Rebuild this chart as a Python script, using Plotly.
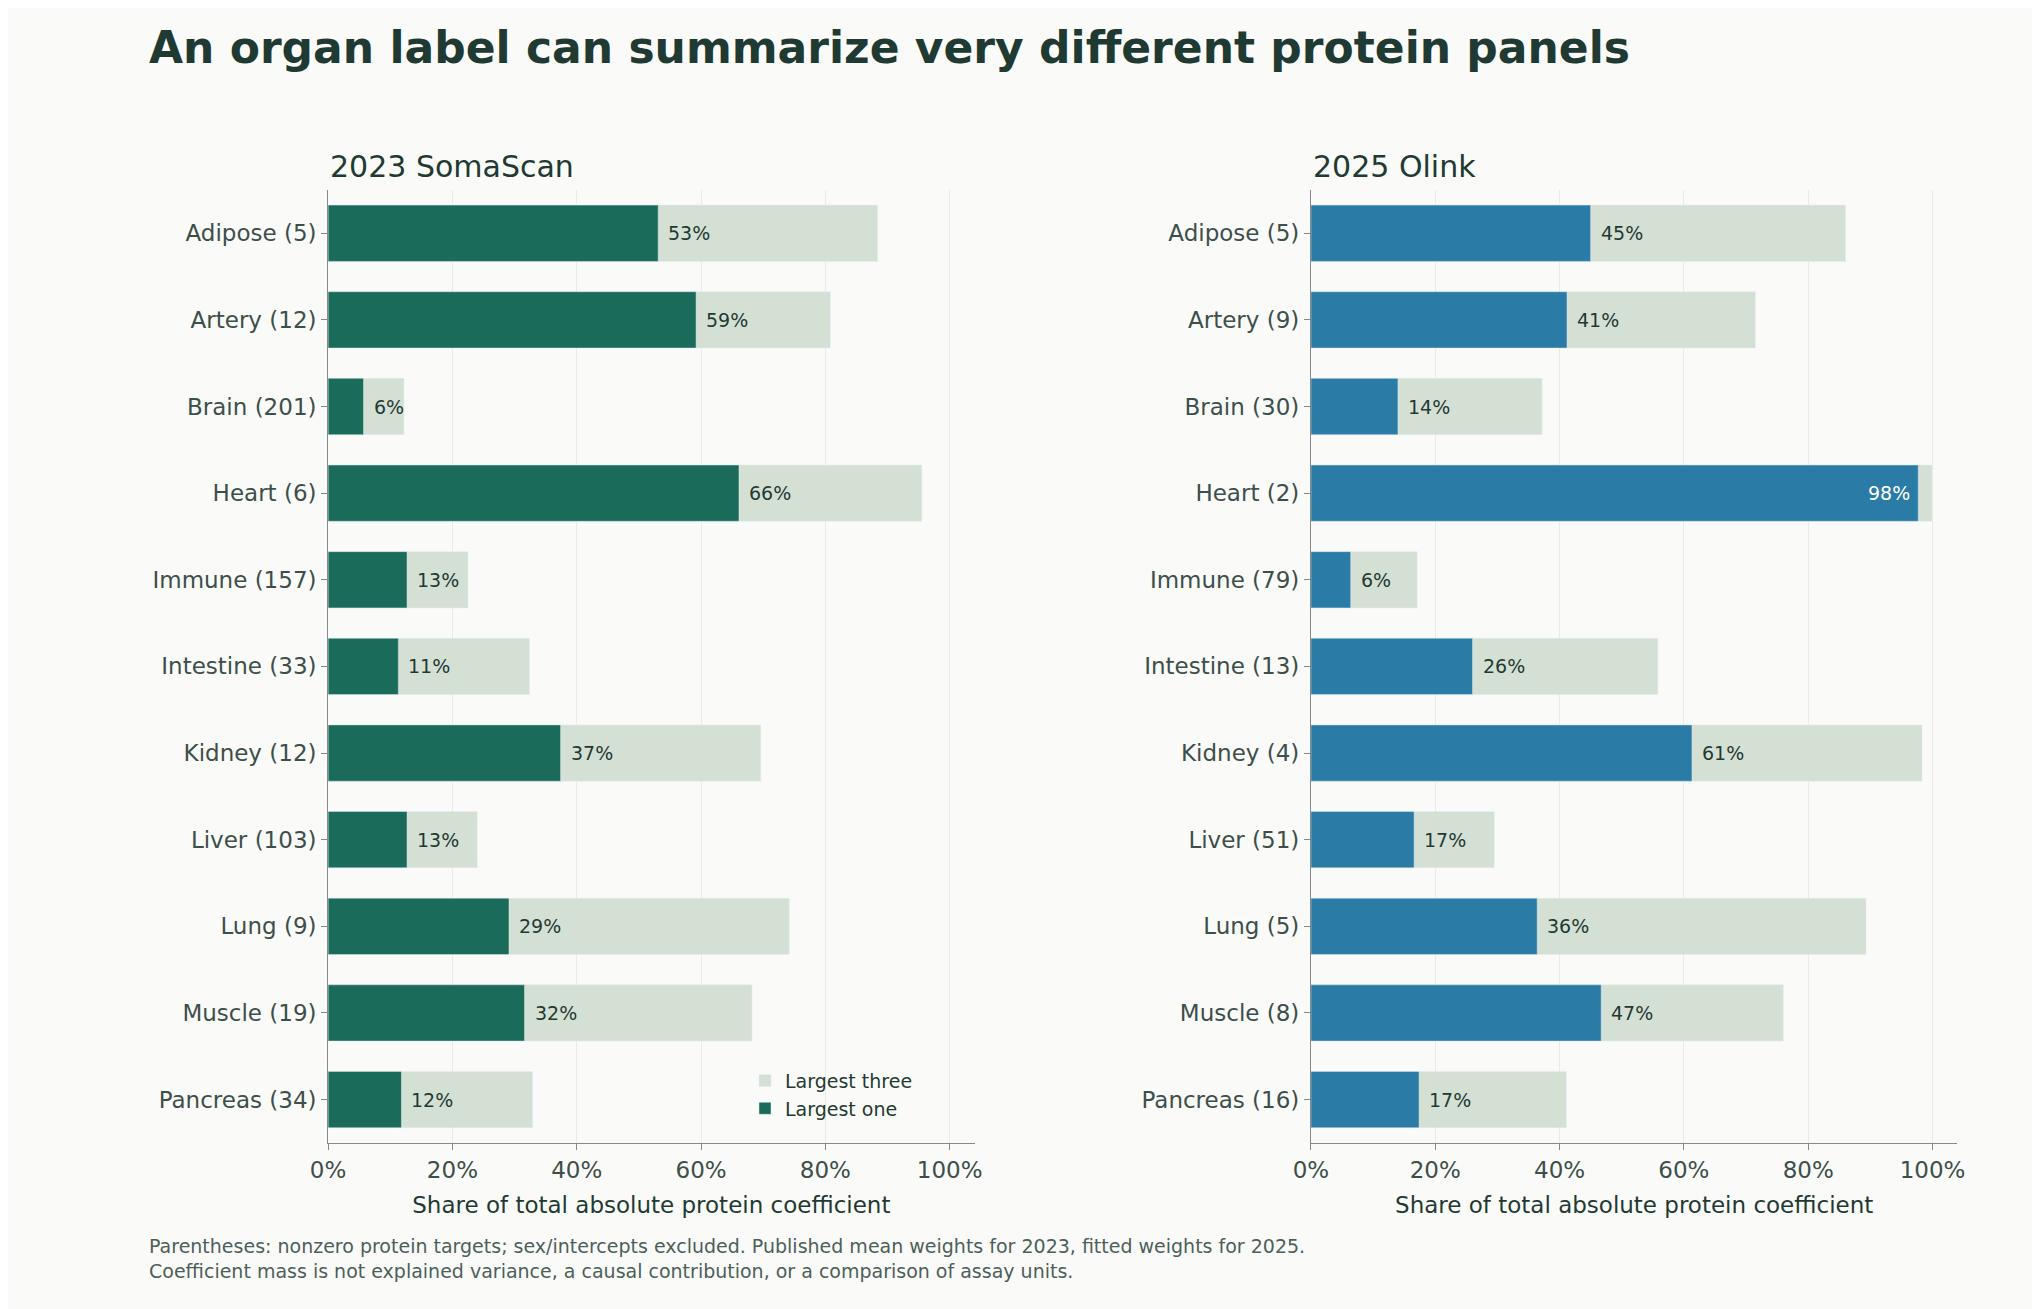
import plotly.graph_objects as go

organs_2023 = ["Adipose (5)", "Artery (12)", "Brain (201)", "Heart (6)", "Immune (157)", "Intestine (33)",
               "Kidney (12)", "Liver (103)", "Lung (9)", "Muscle (19)", "Pancreas (34)"]
one_2023 = [0.531, 0.592, 0.057, 0.661, 0.127, 0.113, 0.374, 0.127, 0.291, 0.316, 0.118]
three_2023 = [0.884, 0.808, 0.122, 0.955, 0.225, 0.324, 0.696, 0.240, 0.742, 0.682, 0.329]

organs_2025 = ["Adipose (5)", "Artery (9)", "Brain (30)", "Heart (2)", "Immune (79)", "Intestine (13)",
               "Kidney (4)", "Liver (51)", "Lung (5)", "Muscle (8)", "Pancreas (16)"]
one_2025 = [0.450, 0.412, 0.140, 0.977, 0.064, 0.260, 0.613, 0.166, 0.364, 0.467, 0.174]
three_2025 = [0.860, 0.715, 0.372, 0.999, 0.171, 0.558, 0.983, 0.295, 0.893, 0.760, 0.411]

BG = "#fafaf8"; TXT = "#1f3a33"; LIGHT = "#d5e0d5"
GREEN = "#1a6b5a"; BLUE = "#2a7ca6"

fig = go.Figure()
panels = [("x", "y", organs_2023, one_2023, three_2023, GREEN, True),
          ("x2", "y2", organs_2025, one_2025, three_2025, BLUE, False)]
for xa, ya, cats, one, three, col, leg in panels:
    fig.add_trace(go.Bar(y=cats, x=three, orientation="h", marker_color=LIGHT, width=0.65,
                         name="Largest three", showlegend=leg, xaxis=xa, yaxis=ya))
    fig.add_trace(go.Bar(y=cats, x=one, orientation="h", marker_color=col, width=0.65,
                         name="Largest one", showlegend=leg, xaxis=xa, yaxis=ya))
    for c, v in zip(cats, one):
        inside = v > 0.9
        fig.add_annotation(x=v, y=c, xref=xa, yref=ya, text=f"{round(v*100)}%", showarrow=False,
                           xanchor="right" if inside else "left", xshift=-6 if inside else 8,
                           font=dict(size=19, color="white" if inside else TXT))

axcommon = dict(range=[0, 1.04], tickvals=[0, 0.2, 0.4, 0.6, 0.8, 1.0],
                ticktext=["0%", "20%", "40%", "60%", "80%", "100%"],
                showgrid=True, gridcolor="#ebebe6", zeroline=False, showline=True,
                linecolor="#888", ticks="outside", ticklen=6, tickcolor="#888",
                tickfont=dict(size=23, color="#3d4f4a"),
                title=dict(text="Share of total absolute protein coefficient", font=dict(size=23, color=TXT)))
ycommon = dict(autorange="reversed", showline=True, linecolor="#888", ticks="outside", ticklen=6,
               tickcolor="#888", tickfont=dict(size=23, color="#3d4f4a"), showgrid=False)

fig.update_layout(
    width=2040, height=1309, paper_bgcolor=BG, plot_bgcolor=BG, barmode="overlay",
    margin=dict(l=0, r=0, t=0, b=0), font=dict(family="DejaVu Sans", color=TXT),
    xaxis=dict(domain=[0.150, 0.471], anchor="y", **axcommon),
    yaxis=dict(domain=[0.133, 0.861], anchor="x", **ycommon),
    xaxis2=dict(domain=[0.638, 0.959], anchor="y2", **axcommon),
    yaxis2=dict(domain=[0.133, 0.861], anchor="x2", **ycommon),
    legend=dict(x=0.357, y=0.195, xanchor="left", yanchor="top", bgcolor="rgba(0,0,0,0)",
                font=dict(size=19, color=TXT), traceorder="normal"),
    annotations=list(fig.layout.annotations) + [
        dict(text="<b>An organ label can summarize very different protein panels</b>", x=0.06, y=0.97,
             xref="paper", yref="paper", xanchor="left", yanchor="middle", showarrow=False,
             font=dict(size=44, color=TXT)),
        dict(text="2023 SomaScan", x=0.150, y=0.879, xref="paper", yref="paper", xanchor="left",
             yanchor="middle", showarrow=False, font=dict(size=30, color=TXT)),
        dict(text="2025 Olink", x=0.638, y=0.879, xref="paper", yref="paper", xanchor="left",
             yanchor="middle", showarrow=False, font=dict(size=30, color=TXT)),
        dict(text="Parentheses: nonzero protein targets; sex/intercepts excluded. Published mean weights for 2023, fitted weights for 2025.<br>"
                  "Coefficient mass is not explained variance, a causal contribution, or a comparison of assay units.",
             x=0.06, y=0.045, xref="paper", yref="paper", xanchor="left", yanchor="middle", align="left",
             showarrow=False, font=dict(size=19, color="#4d5f5a")),
    ],
)
fig.write_html("out.html")
